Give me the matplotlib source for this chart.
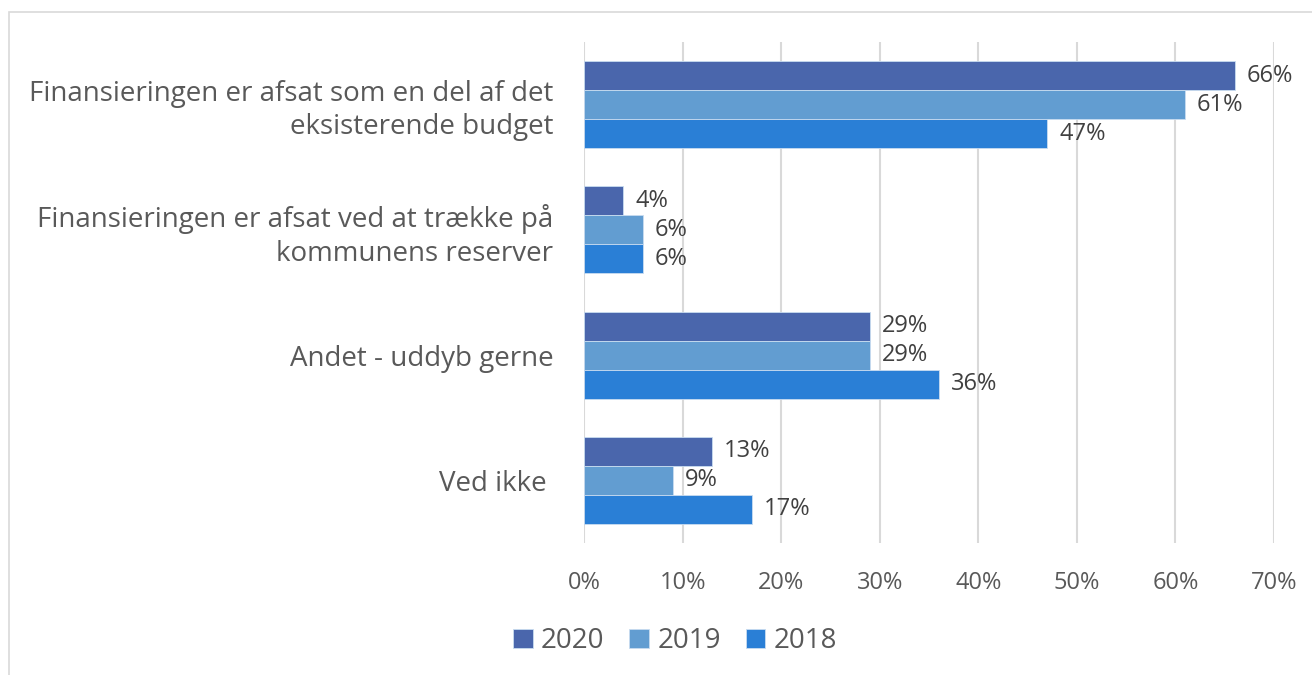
import matplotlib.pyplot as plt
import numpy as np
from matplotlib.patches import Rectangle

categories = ["Finansieringen er afsat som en del af det\neksisterende budget",
              "Finansieringen er afsat ved at trække på\nkommunens reserver",
              "Andet - uddyb gerne",
              "Ved ikke "]
years = ["2020", "2019", "2018"]
v2020 = [66, 4, 29, 13]
v2019 = [61, 6, 29, 9]
v2018 = [47, 6, 36, 17]
colors = ["#4A66AC", "#629DD1", "#2A7FD6"]
ticks = [0, 10, 20, 30, 40, 50, 60, 70]

plt.rcParams['font.family'] = ['Open Sans', 'DejaVu Sans']
txt = "#595959"

fig = plt.figure(figsize=(13.12, 6.75), dpi=100)
ax = fig.add_axes([584 / 1312, 1 - 543 / 675, 690 / 1312, 501 / 675])

# light frame around the chart
fig.patches.append(Rectangle((9 / 1312, -0.1), 1.2, 1 - 12 / 675 + 0.1,
                             transform=fig.transFigure, fill=False,
                             edgecolor="#D9D9D9", linewidth=1.2))

y = np.arange(len(categories))
h = 0.232
for i, (vals, yr) in enumerate(zip([v2020, v2019, v2018], years)):
    pos = y + (i - 1) * h
    ax.barh(pos, vals, height=h, color=colors[i], label=yr,
            edgecolor="#C9DCF0", linewidth=0.6, zorder=3)
    for p, v in zip(pos, vals):
        ax.text(v + 1.2, p, f"{v}%", va="center", ha="left",
                fontsize=17, color="#404040")

ax.set_xlim(0, 70)
ax.set_ylim(len(categories) - 0.5, -0.5)
ax.set_xticks(ticks)
ax.set_xticklabels([f"{t}%" for t in ticks], fontsize=17, color=txt)
ax.set_yticks(y)
ax.set_yticklabels(categories, fontsize=20, color=txt, linespacing=1.25)
ax.tick_params(axis="both", length=0)
ax.tick_params(axis="y", pad=22)
ax.tick_params(axis="x", pad=20)
ax.grid(axis="x", color="#D9D9D9", linewidth=1.5, zorder=0)
for s in ax.spines.values():
    s.set_visible(False)

leg = fig.legend(loc="center", bbox_to_anchor=(675 / 1312, 1 - 641 / 675),
                 ncol=3, frameon=False, fontsize=20, handlelength=0.7,
                 handleheight=0.7, handletextpad=0.3, columnspacing=0.9)
for t in leg.get_texts():
    t.set_color(txt)

fig.savefig("out.png", dpi=100)
